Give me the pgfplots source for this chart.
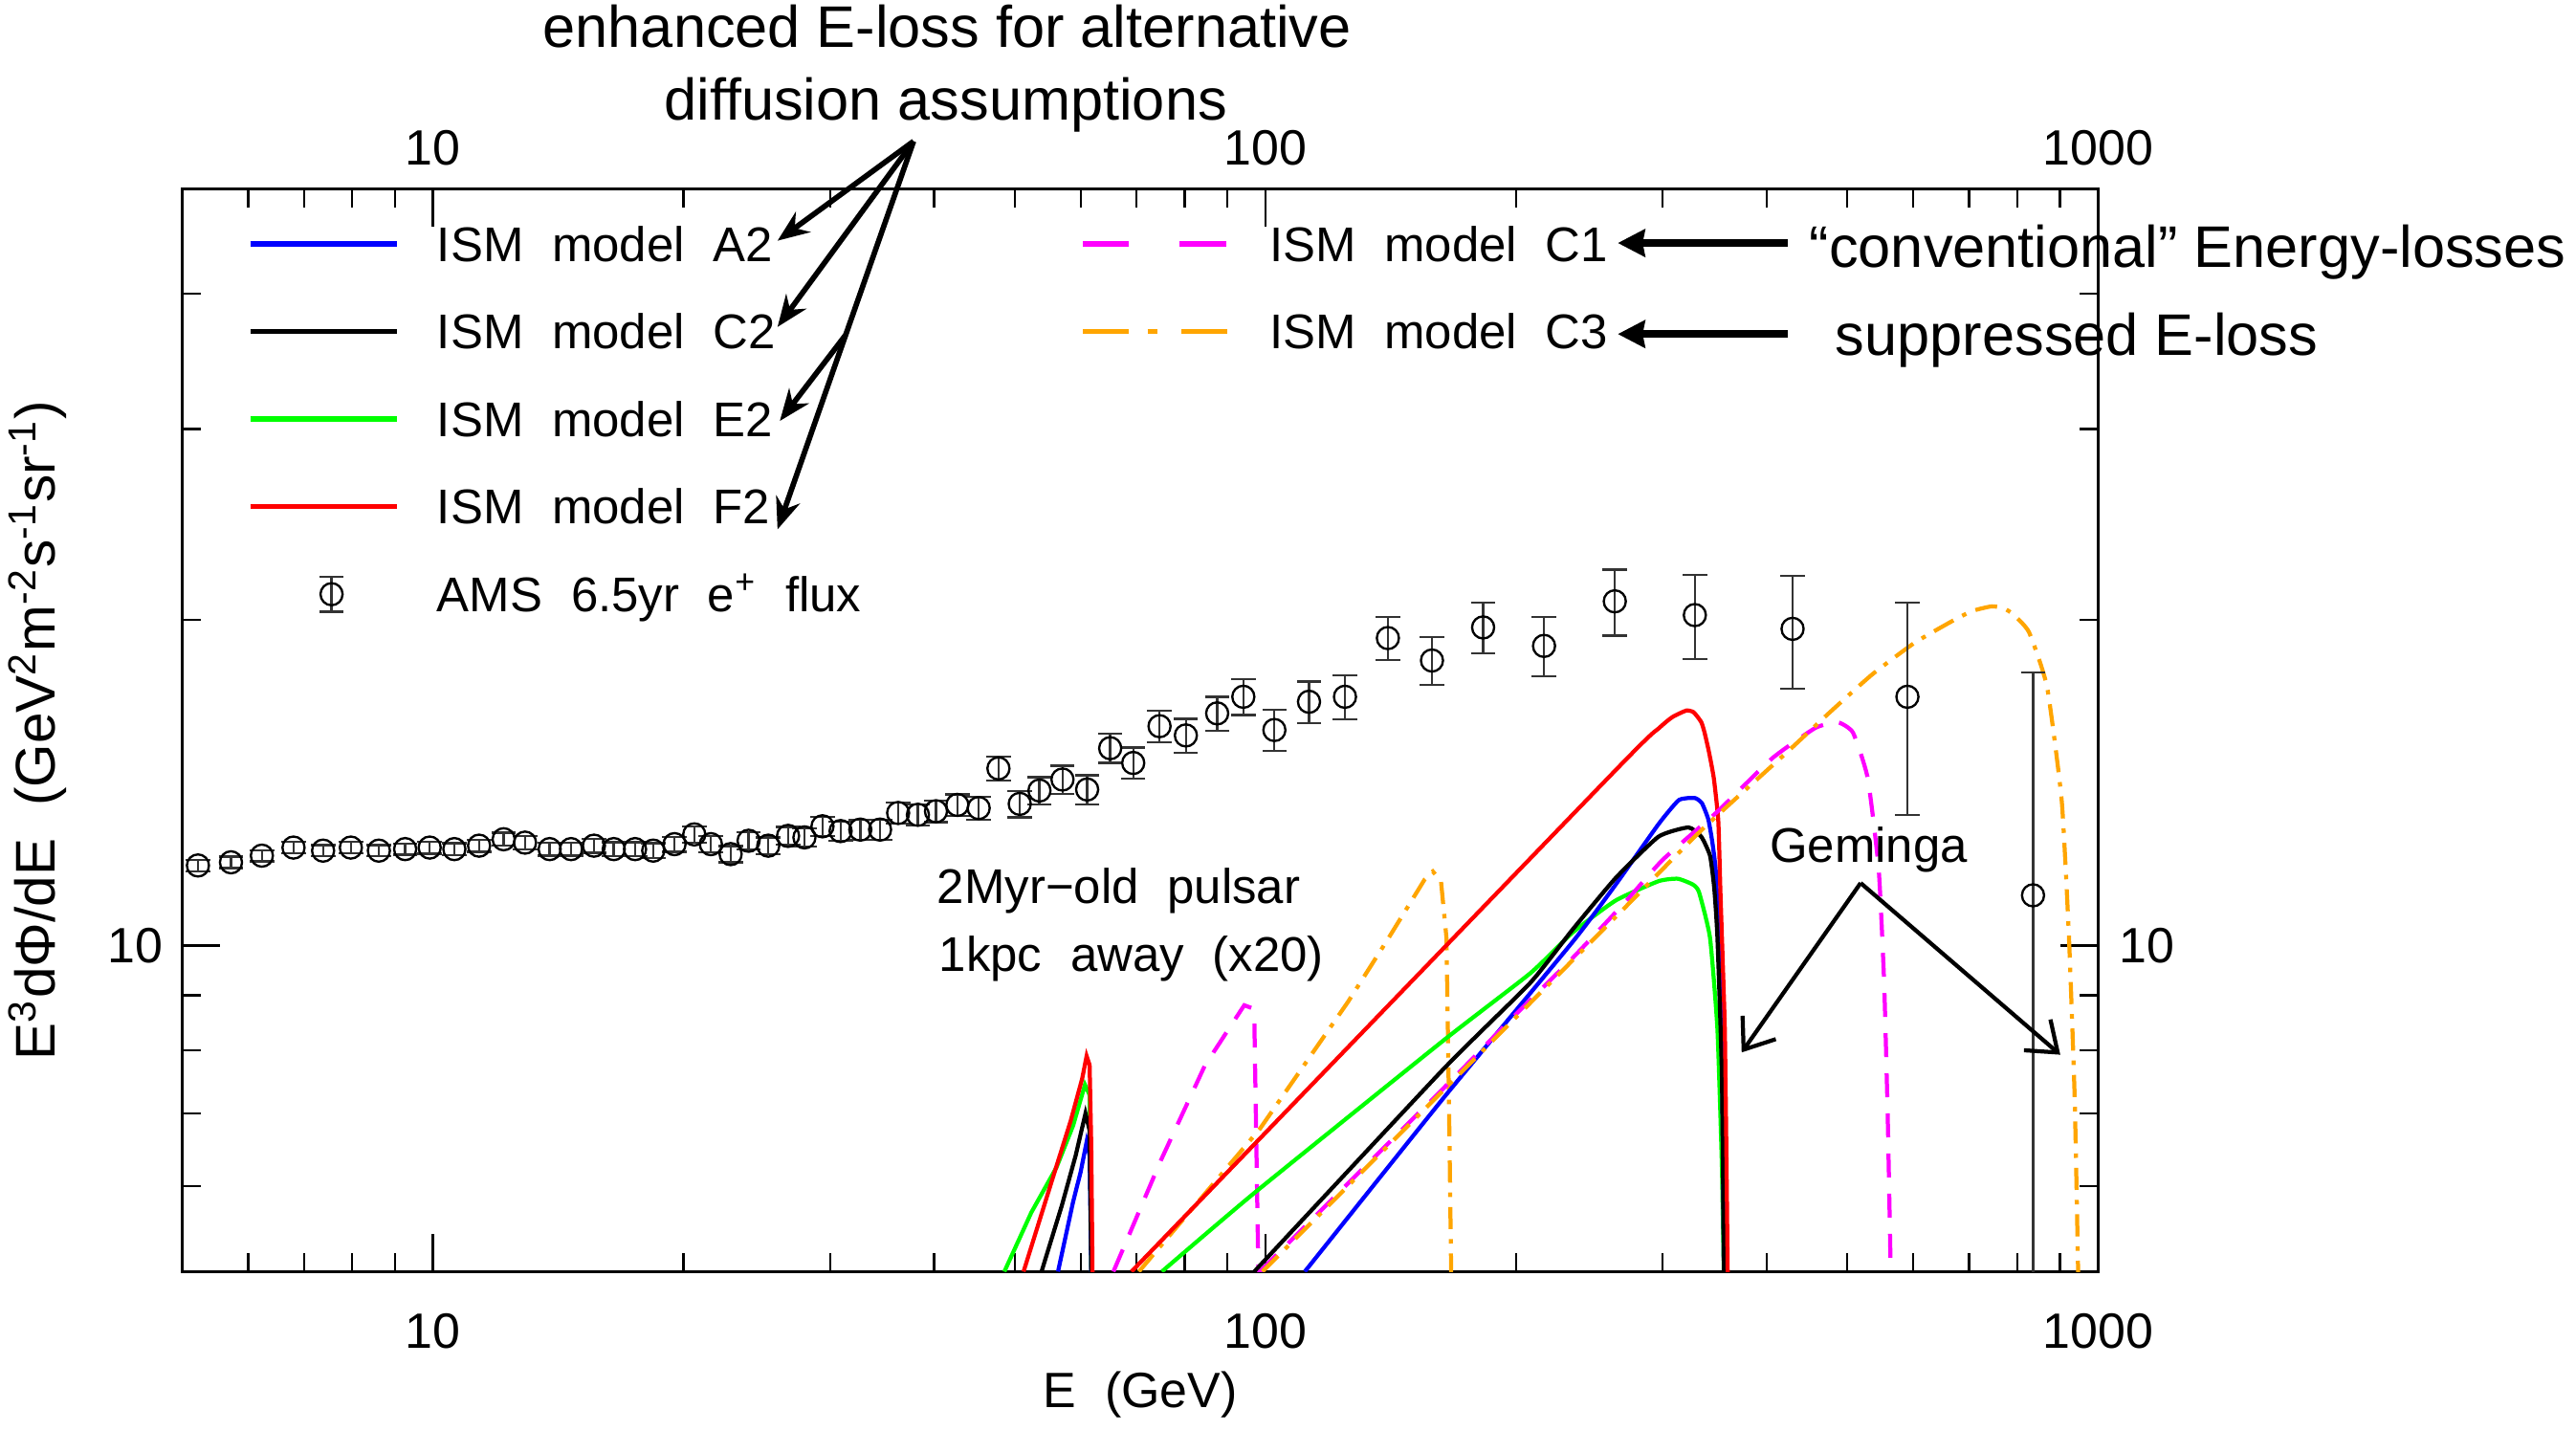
\documentclass[border=0pt]{standalone}
\usepackage{fontspec}
\setmainfont{Liberation Sans}
\newfontfamily\idlfont[WordSpace=2.1]{Liberation Sans}
\usepackage{pgfplots}
\pgfplotsset{compat=1.18}
\usetikzlibrary{arrows.meta}

\definecolor{cblue}{RGB}{0,0,255}
\definecolor{cgreen}{RGB}{0,255,0}
\definecolor{cred}{RGB}{255,0,0}
\definecolor{cmag}{RGB}{255,0,255}
\definecolor{corange}{RGB}{255,165,0}

\newcommand\idl{\idlfont\fontsize{10.8}{13}\selectfont}
\newcommand\idlt{\idlfont\fontsize{11}{13}\selectfont}
\newcommand\idly{\idlfont\fontsize{12.4}{14}\selectfont}
\newcommand\hv{\fontsize{13}{15}\selectfont}

\begin{document}
\begin{tikzpicture}
\useasboundingbox (0,0) rectangle (20.0704cm,-11.1488cm);

% main axis: curves, data, bottom/left labels, legend
\begin{axis}[
  at={(1.4208cm,-9.9072cm)}, anchor=south west,
  scale only axis, width=14.9248cm, height=8.4352cm,
  xmode=log, ymode=log,
  xmin=5, xmax=1000, ymin=5, ymax=50,
  xtick={10,100,1000}, xticklabels={10,100,1000},
  ytick={10}, yticklabels={10},
  minor xtick={6,7,8,9,20,30,40,50,60,70,80,90,200,300,400,500,600,700,800,900},
  minor ytick={6,7,8,9,20,30,40},
  tick align=inside,
  major tick length=8.3pt, minor tick length=4.2pt,
  tick style={black, line width=0.5pt},
  axis line style={line width=0.7pt},
  xticklabel pos=lower, yticklabel pos=left,
  tick label style={font=\idlt},
  xticklabel style={anchor=center, yshift=-13.2pt},
  yticklabel style={anchor=center, xshift=-10.4pt},
  xlabel={E (GeV)},
  ylabel={E\textsuperscript{3}dΦ/dE (GeV\textsuperscript{2}m\textsuperscript{-2}s\textsuperscript{-1}sr\textsuperscript{-1})},
  xlabel style={font=\idlt, at={(axis description cs:0.5,-0.1138)}, anchor=center},
  ylabel style={font=\idly, at={(axis description cs:-0.0756,0.5)}, anchor=center},
  legend columns=2,
  legend image code/.code={\draw[#1] (0pt,3.9pt) -- (32.4pt,3.9pt);},
  legend style={at={(axis description cs:0.0342,0.9663)}, anchor=north west,
    draw=none, fill=none, inner sep=0pt, outer sep=0pt, font=\idl,
    row sep=8.9pt, column sep=0pt,
    nodes={inner sep=0pt, text height=8pt, text depth=2.5pt},
    cells={anchor=base west},
    /tikz/every odd column/.append style={column sep=8.45pt}},
  model/.style={forget plot, line width=0.9pt},
  geminga/.style={forget plot, line width=0.9pt, smooth, tension=0.3},
]

% 2 Myr old pulsar, 1 kpc (x20)
\addplot[model, cgreen] coordinates {
  (48.57,5.0) (52.33,5.67) (56.10,6.24) (58.74,6.82) (60.70,7.44) (61.49,7.28) (61.8,4.9)};
\addplot[model, cblue] coordinates {
  (56.34,5.0) (58.74,5.80) (59.98,6.18) (60.98,6.59) (61.49,6.40) (61.8,4.9)};
\addplot[model, black] coordinates {
  (53.83,5.0) (56.96,5.76) (59.16,6.40) (60.79,7.0) (61.49,6.75) (61.8,4.9)};
\addplot[model, cred] coordinates {
  (51.22,5.0) (55.26,6.03) (58.35,6.89) (60.24,7.54) (60.98,7.91) (61.49,7.76) (61.77,6.51) (62.0,4.9)};
\addplot[model, cmag, dash pattern=on 5.3pt off 3.6pt] coordinates {
  (65.67,5.0) (74.85,6.33) (84.56,7.75) (91.10,8.46) (94.30,8.81) (96.20,8.76) (96.96,8.58) (98.1,4.9)};
\addplot[model, corange, dash pattern=on 4.9pt off 2.2pt on 1pt off 2.2pt] coordinates {
  (70.47,5.0) (98.42,6.77) (125.6,8.87) (140.3,10.14) (155.3,11.51) (158.9,11.71) (162.5,11.47) (165.0,10.16) (166.3,6.77) (167.2,4.9)};

% Geminga
\addplot[geminga, cgreen] coordinates {
  (75.09,5.0) (96.96,5.91) (163.8,8.18) (208.0,9.43) (234.1,10.29) (263.5,11.01) (296.6,11.47)
  (312.8,11.53) (326.0,11.39) (331.7,11.21) (342.0,10.17) (349.1,8.37) (353.4,6.26) (355.5,4.9)};
\addplot[geminga, cblue] coordinates {
  (111.5,5.0) (163.8,7.24) (234.1,10.09) (263.5,11.39) (296.6,12.95) (313.8,13.63) (327.9,13.69)
  (334.4,13.54) (340.3,13.09) (344,12.5) (347.4,11.76) (350,10.4) (352.0,9.23) (354,7.2) (355.5,4.9)};
\addplot[geminga, black] coordinates {
  (96.96,5.0) (163.8,7.70) (208.0,9.24) (234.1,10.36) (263.5,11.55) (296.6,12.61) (322.2,12.86)
  (333.8,12.61) (342,12.11) (346,11.3) (349.1,10.17) (353.4,7.60) (355.5,4.9)};
\addplot[geminga, cred] coordinates {
  (69.04,5.0) (263.5,14.53) (296.6,15.87) (308.1,16.26) (320.3,16.49) (326.9,16.43) (333.8,16.09)
  (336.9,15.73) (341,15.1) (345.6,14.28) (349.9,13.04) (352.0,11.21) (354.2,9.7) (356.3,8.37)
  (357.8,6.5) (359.2,4.9)};
\addplot[geminga, cmag, dash pattern=on 5.3pt off 3.6pt] coordinates {
  (98.42,5.0) (125.6,6.03) (163.8,7.39) (198.0,8.58) (234.1,9.75) (271,10.99) (299.9,12.0)
  (349.1,13.3) (406.3,14.9) (457.6,15.89) (487.0,16.08) (507.9,15.73) (529.0,14.28) (545.3,11.76)
  (553.6,9.23) (559.2,6.90) (564,4.9)};
\addplot[geminga, corange, dash pattern=on 4.9pt off 2.2pt on 1pt off 2.2pt] coordinates {
  (99.18,5.0) (163.8,7.36) (262.8,10.61) (333.8,12.78) (422.7,15.08) (475.6,16.41) (535.3,17.80)
  (602.5,19.05) (678.2,20.07) (710,20.4) (745.5,20.58) (770,20.5) (790.8,20.24) (826.4,19.48)
  (868.7,17.34) (904.7,13.60) (923.0,10.17) (937.6,7.24) (947.1,4.9)};

% AMS 6.5 yr positron flux
\addplot[forget plot, only marks, mark=o, mark size=2.45pt,
  mark options={black, line width=0.5pt},
  error bars/.cd, y dir=both, y explicit relative,
  error bar style={black!80, line width=0.5pt},
  error mark options={rotate=90, black!80, mark size=2.7pt, line width=0.5pt}]
  table[x=E, y=F, y error=R] {
E F R
5.22 11.86 0.012
5.72 11.94 0.012
6.23 12.11 0.012
6.80 12.32 0.012
7.38 12.24 0.012
7.97 12.32 0.012
8.61 12.24 0.012
9.26 12.28 0.012
9.91 12.32 0.013
10.61 12.28 0.013
11.36 12.37 0.013
12.16 12.54 0.014
12.90 12.45 0.014
13.81 12.28 0.014
14.65 12.28 0.014
15.61 12.37 0.015
16.49 12.28 0.015
17.49 12.28 0.015
18.39 12.24 0.016
19.51 12.41 0.016
20.60 12.67 0.017
21.57 12.41 0.017
22.78 12.15 0.017
23.94 12.50 0.018
25.28 12.37 0.018
26.70 12.63 0.019
27.94 12.59 0.019
29.37 12.89 0.020
30.88 12.76 0.020
32.61 12.80 0.021
34.44 12.80 0.021
36.21 13.26 0.022
38.24 13.21 0.022
40.20 13.31 0.023
42.65 13.49 0.023
45.24 13.40 0.024
47.78 14.58 0.026
50.68 13.52 0.028
53.52 13.91 0.029
57.04 14.24 0.030
61.07 13.94 0.031
65.09 15.22 0.031
69.37 14.75 0.033
74.61 15.95 0.033
80.24 15.64 0.036
87.5 16.39 0.036
94.06 16.98 0.038
102.5 15.82 0.044
112.8 16.80 0.044
124.6 16.98 0.047
140.3 19.24 0.046
158.5 18.34 0.051
182.6 19.68 0.054
216.1 18.92 0.063
262.8 20.80 0.070
327.9 20.20 0.089
429.7 19.62 0.120
590.4 16.98 0.222
835.6 11.13 0.606
};

% legend, filled row by row
\addlegendimage{cblue, line width=1.1pt}
\addlegendentry{\makebox[142.6pt][l]{ISM model A2}}
\addlegendimage{cmag, line width=1.1pt, dash pattern=on 10.2pt off 11.3pt}
\addlegendentry{ISM model C1}
\addlegendimage{black, line width=1.1pt}
\addlegendentry{\makebox[142.6pt][l]{ISM model C2}}
\addlegendimage{corange, line width=1.1pt, dash pattern=on 10.2pt off 4.2pt on 2.2pt off 5.3pt}
\addlegendentry{ISM model C3}
\addlegendimage{cgreen, line width=1.1pt}
\addlegendentry{\makebox[142.6pt][l]{ISM model E2}}
\addlegendimage{empty legend}
\addlegendentry{}
\addlegendimage{cred, line width=1.1pt}
\addlegendentry{\makebox[142.6pt][l]{ISM model F2}}
\addlegendimage{empty legend}
\addlegendentry{}
\addlegendimage{legend image code/.code={
  \path[draw=none] (0pt,3.9pt) -- (32.4pt,3.9pt);
  \draw[black!80, line width=0.5pt] (18pt,0pt) -- (18pt,7.8pt)
    (15.3pt,0pt) -- (20.7pt,0pt) (15.3pt,7.8pt) -- (20.7pt,7.8pt);
  \draw[black, line width=0.5pt] (18pt,3.9pt) circle[radius=2.45pt];}}
\addlegendentry{\makebox[142.6pt][l]{AMS 6.5yr e\textsuperscript{+} flux}}
\addlegendimage{empty legend}
\addlegendentry{}
\end{axis}

% second axis: top and right tick labels only
\begin{axis}[
  at={(1.4208cm,-9.9072cm)}, anchor=south west,
  scale only axis, width=14.9248cm, height=8.4352cm,
  xmode=log, ymode=log,
  xmin=5, xmax=1000, ymin=5, ymax=50,
  xtick={10,100,1000}, xticklabels={10,100,1000},
  ytick={10}, yticklabels={10},
  minor xtick={}, minor ytick={},
  xticklabel pos=upper, yticklabel pos=right,
  axis line style={draw=none}, tick style={draw=none},
  tick label style={font=\idlt},
  xticklabel style={anchor=center, yshift=9.1pt},
  yticklabel style={anchor=center, xshift=10.8pt},
]
\addplot[draw=none] coordinates {(10,10)};
\end{axis}

% annotations, in pixel units of the reference (y downwards)
\begin{scope}[x=0.0128cm, y=-0.0128cm]
  \node[font=\hv, anchor=base, inner sep=0pt] at (576.5,29) {enhanced E-loss for alternative};
  \node[font=\hv, anchor=base, inner sep=0pt] at (575.6,73) {diffusion assumptions};
  \begin{scope}[line width=1.2pt, -{Stealth[length=7pt,width=5.5pt]}]
    \draw (556,86) -- (473.2,146.5);
    \draw (556,86) -- (473.2,199);
    \draw (556,86) -- (473.2,322.2);
    \draw (514.7,203.8) -- (474.6,256.2);
  \end{scope}
  \draw[line width=1.6pt, -{Stealth[length=6pt,width=6pt,inset=0.5pt]}] (1088,147.9) -- (984.6,147.9);
  \draw[line width=1.6pt, -{Stealth[length=6pt,width=6pt,inset=0.5pt]}] (1088,203.3) -- (984.6,203.3);
  \node[font=\hv, anchor=base west, inner sep=0pt] at (1100.8,162.6) {“conventional” Energy-losses};
  \node[font=\hv, anchor=base west, inner sep=0pt] at (1116.6,216.5) {suppressed E-loss};
  \node[font=\idl, anchor=base west, inner sep=0pt] at (569.9,549.7) {2Myr−old pulsar};
  \node[font=\idl, anchor=base west, inner sep=0pt] at (571,591) {1kpc away (x20)};
  \node[font=\idl, anchor=base west, inner sep=0pt] at (1076.6,524.8) {Geminga};
  \draw[line width=0.9pt, -{Straight Barb[length=6pt,width=9pt]}] (1132.4,537.4) -- (1060,640.5);
  \draw[line width=0.9pt, -{Straight Barb[length=6pt,width=9pt]}] (1132.4,537.4) -- (1253.9,641.9);
\end{scope}
\end{tikzpicture}
\end{document}
